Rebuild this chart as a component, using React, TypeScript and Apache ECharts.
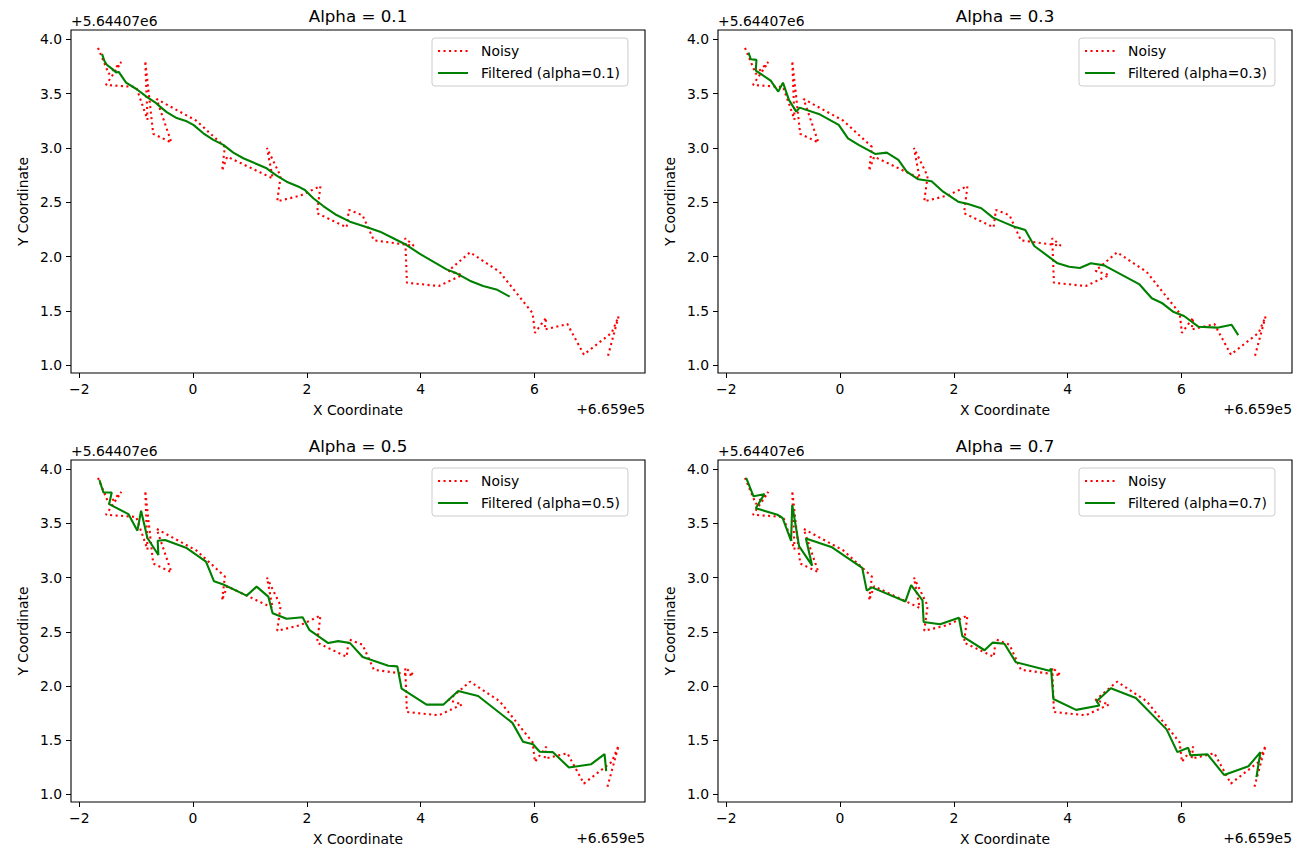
import React, { useEffect, useRef } from "react";
import * as echarts from "echarts";

// Noisy trajectory (offset units: x + 6.659e5, y + 5.64407e6)
const noisyX = [-1.67, -1.48, -1.26, -1.53, -1.0, -0.8, -0.84, -0.7, -0.38, -0.64, 0.06, 0.56, 0.51, 0.6, 1.4, 1.3, 1.54, 1.48, 1.88, 2.24, 2.18, 2.7, 2.74, 2.98, 3.18, 3.88, 3.73, 3.76, 4.32, 4.73, 4.49, 4.87, 5.39, 5.97, 6.01, 6.21, 6.18, 6.58, 6.87, 7.36, 7.48, 7.28];
const noisyY = [3.92, 3.68, 3.79, 3.58, 3.56, 3.26, 3.8, 3.13, 3.05, 3.45, 3.25, 3.01, 2.79, 2.92, 2.72, 3.0, 2.74, 2.51, 2.56, 2.65, 2.4, 2.27, 2.43, 2.38, 2.15, 2.1, 2.17, 1.76, 1.73, 1.83, 1.87, 2.04, 1.86, 1.48, 1.3, 1.44, 1.33, 1.38, 1.1, 1.3, 1.45, 1.06];

// Filtered (alpha = 0.1)
const f1X = [-1.6, -1.557, -1.516, -1.429, -1.352, -1.306, -1.177, -0.989, -0.814, -0.667, -0.58, -0.463, -0.287, -0.111, 0.006, 0.181, 0.357, 0.533, 0.708, 0.884, 1.118, 1.294, 1.47, 1.645, 1.879, 1.967, 2.114, 2.289, 2.523, 2.758, 2.936, 3.111, 3.287, 3.52, 3.754, 3.988, 4.222, 4.456, 4.632, 4.865, 5.099, 5.333, 5.567];
const f1Y = [3.865, 3.8, 3.765, 3.73, 3.695, 3.699, 3.601, 3.54, 3.47, 3.42, 3.38, 3.33, 3.275, 3.245, 3.212, 3.135, 3.074, 3.028, 2.957, 2.905, 2.853, 2.813, 2.745, 2.69, 2.638, 2.613, 2.537, 2.466, 2.383, 2.322, 2.291, 2.261, 2.23, 2.169, 2.107, 2.025, 1.954, 1.883, 1.847, 1.779, 1.73, 1.699, 1.632];

// Filtered (alpha = 0.3)
const f3X = [-1.609, -1.568, -1.469, -1.481, -1.219, -1.085, -1.003, -0.898, -0.77, -0.711, -0.373, -0.023, 0.14, 0.327, 0.618, 0.822, 1.026, 1.172, 1.376, 1.609, 1.813, 2.076, 2.251, 2.484, 2.688, 2.892, 3.064, 3.257, 3.415, 3.825, 4.029, 4.216, 4.409, 4.643, 5.257, 5.48, 5.667, 5.854, 6.047, 6.298, 6.632, 6.883, 7.0];
const f3Y = [3.877, 3.816, 3.81, 3.712, 3.62, 3.518, 3.601, 3.442, 3.334, 3.371, 3.313, 3.212, 3.089, 3.028, 2.945, 2.957, 2.89, 2.782, 2.712, 2.693, 2.598, 2.506, 2.485, 2.445, 2.359, 2.313, 2.276, 2.245, 2.098, 1.939, 1.908, 1.896, 1.939, 1.92, 1.748, 1.617, 1.571, 1.494, 1.454, 1.356, 1.347, 1.374, 1.279];

// Filtered (alpha = 0.5)
const f5X = [-1.645, -1.575, -1.429, -1.475, -1.136, -0.978, -0.913, -0.802, -0.609, -0.621, -0.492, -0.111, 0.228, 0.369, 0.533, 0.943, 1.118, 1.323, 1.399, 1.645, 1.926, 2.043, 2.377, 2.553, 2.76, 2.982, 3.433, 3.591, 3.667, 4.105, 4.398, 4.661, 5.012, 5.614, 5.801, 5.977, 6.094, 6.327, 6.608, 7.0, 7.234, 7.263];
const f5Y = [3.899, 3.785, 3.785, 3.678, 3.586, 3.433, 3.617, 3.365, 3.209, 3.34, 3.347, 3.273, 3.147, 2.966, 2.936, 2.834, 2.917, 2.825, 2.672, 2.62, 2.635, 2.518, 2.396, 2.414, 2.396, 2.267, 2.187, 2.181, 1.975, 1.828, 1.828, 1.954, 1.908, 1.66, 1.485, 1.463, 1.393, 1.39, 1.248, 1.279, 1.371, 1.215];

// Filtered (alpha = 0.7)
const f7X = [-1.65, -1.52, -1.33, -1.48, -1.1, -1.01, -0.86, -0.84, -0.72, -0.49, -0.6, -0.14, 0.39, 0.47, 0.56, 1.15, 1.25, 1.45, 1.47, 1.76, 2.09, 2.15, 2.54, 2.68, 2.89, 3.09, 3.68, 3.71, 3.75, 4.15, 4.56, 4.51, 4.76, 5.2, 5.74, 5.93, 6.12, 6.16, 6.46, 6.75, 7.18, 7.39, 7.32];
const f7Y = [3.92, 3.75, 3.77, 3.64, 3.58, 3.55, 3.34, 3.67, 3.29, 3.11, 3.36, 3.28, 3.09, 2.88, 2.91, 2.78, 2.93, 2.79, 2.59, 2.57, 2.63, 2.46, 2.33, 2.4, 2.39, 2.22, 2.14, 2.16, 1.88, 1.78, 1.82, 1.86, 1.98, 1.89, 1.6, 1.39, 1.43, 1.36, 1.37, 1.18, 1.26, 1.39, 1.16];

const alphas = ["0.1", "0.3", "0.5", "0.7"];
const filteredX = [f1X, f3X, f5X, f7X];
const filteredY = [f1Y, f3Y, f5Y, f7Y];
const xTicks = [-2, 0, 2, 4, 6];
const yTicks = [1.0, 1.5, 2.0, 2.5, 3.0, 3.5, 4.0];
const xOffsetText = "+6.659e5";
const yOffsetText = "+5.64407e6";
const xName = "X Coordinate";
const yName = "Y Coordinate";

const FONT = "DejaVu Sans";

export default function App() {
  const ref = useRef<HTMLDivElement>(null);
  useEffect(() => {
    if (!ref.current) return;
    const chart = echarts.init(ref.current, null, { renderer: "svg" });

    const grids = [
      { left: 71, top: 30, width: 574, height: 343 },
      { left: 718, top: 30, width: 574, height: 343 },
      { left: 71, top: 460, width: 574, height: 342 },
      { left: 718, top: 460, width: 574, height: 342 },
    ];

    const pair = (xs: number[], ys: number[]) => xs.map((x, i) => [x, ys[i]]);

    const xAxes = grids.map((_, i) => ({
      type: "value",
      gridIndex: i,
      min: -2.145,
      max: 7.945,
      splitLine: { show: false },
      axisLine: { show: false, onZero: false },
      axisTick: { show: true, customValues: xTicks, length: 5, lineStyle: { color: "#000", width: 1 } },
      axisLabel: {
        customValues: xTicks,
        margin: 9,
        color: "#000",
        fontSize: 13.9,
        fontFamily: FONT,
        formatter: (v: number) => (v < 0 ? "\u2212" + String(-v) : String(v)),
      },
      name: xName,
      nameLocation: "middle",
      nameGap: 30,
      nameTextStyle: { color: "#000", fontSize: 13.9, fontFamily: FONT },
    }));

    const yAxes = grids.map((_, i) => ({
      type: "value",
      gridIndex: i,
      min: 0.93,
      max: 4.085,
      splitLine: { show: false },
      axisLine: { show: false, onZero: false },
      axisTick: { show: true, customValues: yTicks, length: 5, lineStyle: { color: "#000", width: 1 } },
      axisLabel: {
        customValues: yTicks,
        margin: 9,
        color: "#000",
        fontSize: 13.9,
        fontFamily: FONT,
        formatter: (v: number) => v.toFixed(1),
      },
      name: yName,
      nameLocation: "middle",
      nameRotate: 90,
      nameGap: 41,
      nameTextStyle: { color: "#000", fontSize: 13.9, fontFamily: FONT },
    }));

    const series: any[] = [];
    grids.forEach((_, i) => {
      series.push({
        type: "line",
        name: "Noisy",
        xAxisIndex: i,
        yAxisIndex: i,
        data: pair(noisyX, noisyY),
        symbol: "none",
        lineStyle: { color: "#ff0000", width: 2.1, type: [2.1, 3.4], cap: "butt" },
        itemStyle: { color: "#ff0000" },
        z: 2,
      });
      series.push({
        type: "line",
        name: `Filtered (alpha=${alphas[i]})`,
        xAxisIndex: i,
        yAxisIndex: i,
        data: pair(filteredX[i], filteredY[i]),
        symbol: "none",
        lineStyle: { color: "#008000", width: 2.1, type: "solid" },
        itemStyle: { color: "#008000" },
        z: 3,
      });
    });

    const legends = grids.map((g, i) => ({
      data: ["Noisy", `Filtered (alpha=${alphas[i]})`],
      orient: "vertical",
      left: g.left + 361,
      top: g.top + 8,
      itemWidth: 30,
      itemHeight: 14,
      itemGap: 8,
      padding: [6, 8, 6, 5],
      borderColor: "#cccccc",
      borderWidth: 1,
      borderRadius: 3,
      backgroundColor: "rgba(255,255,255,0.8)",
      selectedMode: false,
      itemStyle: { color: "rgba(0,0,0,0)", borderColor: "rgba(0,0,0,0)", borderWidth: 0, opacity: 0 },
      textStyle: { color: "#000", fontSize: 13.9, fontFamily: FONT, padding: [0, 0, 0, 8] },
    }));

    const graphics: any[] = [];
    grids.forEach((g, i) => {
      graphics.push({
        type: "text",
        x: g.left + g.width / 2,
        y: g.top - 14.5,
        style: { text: `Alpha = ${alphas[i]}`, fill: "#000", fontSize: 16.7, fontFamily: FONT, textAlign: "center", textVerticalAlign: "middle" },
      });
      graphics.push({
        type: "text",
        x: g.left,
        y: g.top - 9.5,
        style: { text: yOffsetText, fill: "#000", fontSize: 13.9, fontFamily: FONT, textAlign: "left", textVerticalAlign: "middle" },
      });
      graphics.push({
        type: "text",
        x: g.left + g.width,
        y: g.top + g.height + 36,
        style: { text: xOffsetText, fill: "#000", fontSize: 13.9, fontFamily: FONT, textAlign: "right", textVerticalAlign: "middle" },
      });
    });

    chart.setOption({
      animation: false,
      backgroundColor: "#ffffff",
      grid: grids.map((g) => ({ ...g, show: true, borderColor: "#000", borderWidth: 1.1, backgroundColor: "transparent" })),
      xAxis: xAxes,
      yAxis: yAxes,
      legend: legends,
      series,
      graphic: graphics,
    });

    return () => chart.dispose();
  }, []);

  return (
    <div
      ref={ref}
      style={{ position: "fixed", left: 0, top: 0, width: 1297, height: 849, background: "#fff" }}
    />
  );
}
